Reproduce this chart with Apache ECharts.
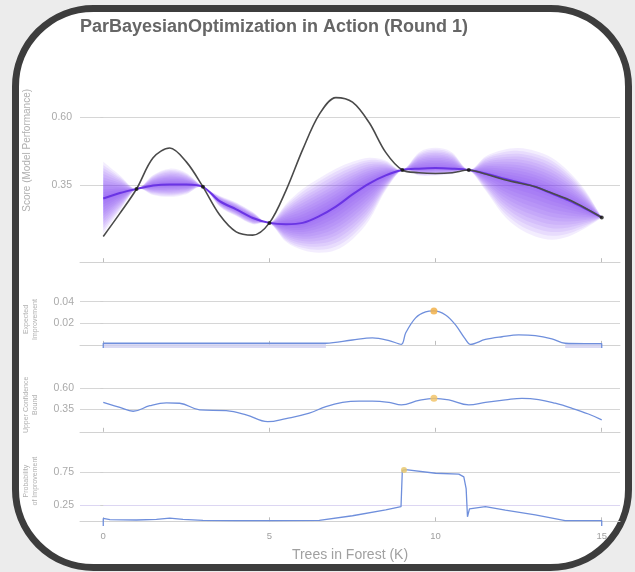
<!DOCTYPE html>
<html><head><meta charset="utf-8">
<script src="https://cdn.jsdelivr.net/npm/echarts@6/dist/echarts.min.js"></script>
<style>html,body{margin:0;padding:0;background:#ececec}#c{width:635px;height:572px}</style>
</head><body><div id="c"></div>
<script>
// ---------- data ----------
const xTicks = [0, 5, 10, 15];
const gpX = [0,0.5,1,1.5,2,2.5,3,3.5,4,4.5,5,5.5,6,6.5,7,7.5,8,8.5,9,9.5,10,10.5,11,11.5,12,12.5,13,13.5,14,14.5,15];
const trueScore = [0.16,0.245,0.335,0.45,0.486,0.435,0.343,0.24,0.177,0.165,0.21,0.33,0.48,0.61,0.672,0.655,0.58,0.47,0.405,0.395,0.392,0.395,0.405,0.39,0.372,0.357,0.343,0.32,0.296,0.265,0.23];
const gpMean   = [0.30,0.32,0.335,0.348,0.352,0.352,0.343,0.29,0.26,0.228,0.21,0.205,0.21,0.235,0.27,0.315,0.355,0.385,0.405,0.41,0.412,0.41,0.405,0.392,0.375,0.36,0.343,0.318,0.293,0.263,0.23];
const gpUpper  = [0.435,0.385,0.335,0.387,0.41,0.394,0.343,0.31,0.285,0.25,0.21,0.28,0.335,0.375,0.41,0.435,0.45,0.44,0.405,0.47,0.487,0.47,0.405,0.455,0.478,0.486,0.475,0.45,0.40,0.33,0.23];
const gpLower  = [0.17,0.255,0.335,0.313,0.306,0.316,0.343,0.27,0.235,0.205,0.21,0.14,0.11,0.10,0.11,0.15,0.22,0.33,0.405,0.385,0.385,0.39,0.405,0.33,0.245,0.19,0.16,0.148,0.16,0.19,0.23];
const obsX = [1, 3, 5, 9, 11, 15];
const obsScore = [0.335, 0.343, 0.21, 0.405, 0.405, 0.23];

const eiX = [0,0,2,4,6,6.7,7.5,8.1,8.6,8.97,9.1,9.4,9.7,9.95,10.3,10.6,10.88,11.05,11.5,12,12.5,13,13.5,13.9,14.5,15,15];
const eiY = [-0.003,0.0015,0.0015,0.0015,0.0015,0.0015,0.0045,0.0064,0.004,0.0005,0.011,0.025,0.0305,0.0314,0.0277,0.0185,0.006,0.0005,0.005,0.0075,0.0092,0.0085,0.0055,0.0015,0.0012,0.0012,-0.003];

const ucbX = [0,0.5,0.9,1.4,1.9,2.3,2.9,3.7,4.3,4.95,5.5,6.2,6.7,7.2,7.7,8.1,8.6,8.97,9.5,9.95,10.4,11.0,11.5,12.1,12.6,13.1,13.6,14.1,14.6,15];
const ucbY = [0.431,0.37,0.323,0.39,0.424,0.42,0.34,0.33,0.28,0.197,0.235,0.30,0.38,0.43,0.446,0.446,0.43,0.40,0.455,0.48,0.46,0.40,0.43,0.46,0.48,0.465,0.42,0.36,0.29,0.22];

const piX = [0,0,0.2,1,1.6,2.0,2.4,3,4,5,6.5,7.5,8.5,8.96,9.0,9.1,10,10.7,10.85,10.92,10.96,11.02,11.5,12.1,13,13.9,15,15];
const piY = [-0.07,0.045,0.025,0.02,0.03,0.05,0.03,0.015,0.01,0.01,0.015,0.085,0.175,0.225,0.78,0.79,0.735,0.722,0.68,0.5,0.07,0.19,0.225,0.17,0.10,0.012,0.012,-0.07];

const nextEI = [9.95, 0.0314];
const nextUCB = [9.95, 0.48];
const nextPI = [9.05, 0.785];

const scoreTicks = [0.35, 0.60];
const eiTicks = [0.02, 0.04];
const ucbTicks = [0.35, 0.60];
const piTicks = [0.25, 0.75];

// ---------- build ----------
const pairs = (xa, ya) => xa.map((x, i) => [x, ya[i]]);
const GRID_L = 80, GRID_W = 540;
const grids = [
  {left: GRID_L, width: GRID_W, top: 38.5, height: 223.7},
  {left: GRID_L, width: GRID_W, top: 290.9, height: 57.2},
  {left: GRID_L, width: GRID_W, top: 378, height: 53.8},
  {left: GRID_L, width: GRID_W, top: 436.3, height: 89.6}
];
const yRanges = [[0.065, 0.89], [-0.003, 0.05], [0.075, 0.725], [-0.07, 1.3]];
const yTickSets = [scoreTicks, eiTicks, ucbTicks, piTicks];
const yNames = ['Score (Model Performance)', 'Expected\nImprovement', 'Upper Confidence\nBound', 'Probability\nof Improvement'];

const xAxes = grids.map((g, i) => ({
  type: 'value', gridIndex: i, min: -0.7, max: 15.55,
  axisLine: {show: true, lineStyle: {color: '#d2d2d2', width: 1}},
  axisTick: {show: true, inside: true, length: 4, customValues: xTicks, lineStyle: {color: '#bdbdbd'}},
  axisLabel: {show: i === 3, customValues: xTicks, color: '#a0a0a0', fontSize: 9.5, margin: 5, fontFamily: 'Liberation Sans'},
  splitLine: {show: false},
  name: i === 3 ? 'Trees in Forest (K)' : '',
  nameLocation: 'middle', nameGap: 22,
  nameTextStyle: {color: '#a0a0a0', fontSize: 14, fontFamily: 'Liberation Sans'}
}));
const yAxes = grids.map((g, i) => ({
  type: 'value', gridIndex: i, min: yRanges[i][0], max: yRanges[i][1],
  axisLine: {show: false},
  axisTick: {show: true, length: 3, customValues: yTickSets[i], lineStyle: {color: '#cfcfcf'}},
  axisLabel: {customValues: yTickSets[i], color: '#aaaaaa', fontSize: 10.5, margin: i === 0 ? 8 : 6,
    fontFamily: 'Liberation Sans', formatter: v => v.toFixed(2)},
  splitLine: {show: true, lineStyle: {color: i === 3 ? ['#dcd6f2', '#d6d6d6'] : '#d6d6d6', width: 1}},
  name: yNames[i], nameLocation: 'middle', nameRotate: 90, nameGap: i === 0 ? 47 : 40,
  nameTextStyle: {color: '#b0b0b0', fontSize: i === 0 ? 10 : 7, lineHeight: i === 0 ? 12 : 9, fontFamily: 'Liberation Sans', align: 'center'}
}));

// smooth closed band path (Catmull-Rom through the read points)
function curvePath(pts, start) {
  let d = (start ? 'M' : 'L') + pts[0][0].toFixed(2) + ' ' + pts[0][1].toFixed(2);
  const n = pts.length, t = 1 / 6;
  for (let i = 0; i < n - 1; i++) {
    const p0 = pts[Math.max(i - 1, 0)], p1 = pts[i], p2 = pts[i + 1], p3 = pts[Math.min(i + 2, n - 1)];
    const c1 = [p1[0] + (p2[0] - p0[0]) * t, p1[1] + (p2[1] - p0[1]) * t];
    const c2 = [p2[0] - (p3[0] - p1[0]) * t, p2[1] - (p3[1] - p1[1]) * t];
    d += 'C' + c1[0].toFixed(2) + ' ' + c1[1].toFixed(2) + ' ' + c2[0].toFixed(2) + ' ' + c2[1].toFixed(2) + ' ' + p2[0].toFixed(2) + ' ' + p2[1].toFixed(2);
  }
  return d;
}
const LAYERS = 12;
const fracs = Array.from({length: LAYERS}, (_, k) => 1 - k / LAYERS);
const series = [];
series.push({
  type: 'custom', xAxisIndex: 0, yAxisIndex: 0, silent: true, z: 1,
  data: fracs.map((f, k) => [k, 0.3]),
  encode: {x: 0, y: 1},
  renderItem: (params, api) => {
    const f = fracs[api.value(0)];
    const up = gpX.map((x, i) => api.coord([x, gpMean[i] + f * (gpUpper[i] - gpMean[i])]));
    const lo = gpX.map((x, i) => api.coord([x, gpMean[i] - f * (gpMean[i] - gpLower[i])])).reverse();
    const d = curvePath(up, true) + curvePath(lo, false) + 'Z';
    return {type: 'path', shape: {pathData: d}, style: {fill: 'rgba(125,62,240,0.095)'}};
  }
});
series.push({type: 'line', xAxisIndex: 0, yAxisIndex: 0, symbol: 'none', smooth: 0.33,
  lineStyle: {color: '#6a34e4', width: 2}, data: pairs(gpX, gpMean), z: 3});
series.push({type: 'line', xAxisIndex: 0, yAxisIndex: 0, symbol: 'none', smooth: 0.33,
  lineStyle: {color: '#4a4a4a', width: 1.6}, data: pairs(gpX, trueScore), z: 4});
series.push({type: 'scatter', xAxisIndex: 0, yAxisIndex: 0, symbolSize: 4,
  itemStyle: {color: '#111'}, data: pairs(obsX, obsScore), z: 5});

const blue = '#6f8fdc';
series.push({type: 'line', xAxisIndex: 1, yAxisIndex: 1, symbol: 'none', smooth: 0.35,
  lineStyle: {color: blue, width: 1.3}, data: pairs(eiX, eiY),
  markArea: {silent: true, itemStyle: {color: 'rgba(205,205,240,0.75)'},
    data: [[{xAxis: 0, yAxis: -0.003}, {xAxis: 6.7, yAxis: 0.0015}],
           [{xAxis: 13.9, yAxis: -0.003}, {xAxis: 15, yAxis: 0.0012}]]}});
series.push({type: 'scatter', xAxisIndex: 1, yAxisIndex: 1, symbolSize: 7,
  itemStyle: {color: '#f2b14a', opacity: 0.85}, data: [nextEI], z: 5});

series.push({type: 'line', xAxisIndex: 2, yAxisIndex: 2, symbol: 'none', smooth: 0.4,
  lineStyle: {color: blue, width: 1.3}, data: pairs(ucbX, ucbY)});
series.push({type: 'scatter', xAxisIndex: 2, yAxisIndex: 2, symbolSize: 7,
  itemStyle: {color: '#f2c46a', opacity: 0.85}, data: [nextUCB], z: 5});

series.push({type: 'line', xAxisIndex: 3, yAxisIndex: 3, symbol: 'none', smooth: false,
  lineStyle: {color: blue, width: 1.3}, data: pairs(piX, piY)});
series.push({type: 'scatter', xAxisIndex: 3, yAxisIndex: 3, symbolSize: 6,
  itemStyle: {color: '#e8c870', opacity: 0.85}, data: [nextPI], z: 5});

const chart = echarts.init(document.getElementById('c'), null, {renderer: 'canvas'});
chart.setOption({
  backgroundColor: '#ececec',
  animation: false,
  title: {text: 'ParBayesianOptimization in Action (Round 1)', left: 75, top: 13,
    textStyle: {color: '#666', fontSize: 18, fontWeight: 'bold', fontFamily: 'Liberation Sans'}},
  graphic: [{type: 'rect', z: -10, silent: true,
    shape: {x: 15.5, y: 8.5, width: 613, height: 559, r: 78},
    style: {fill: '#ffffff', stroke: '#3d3d3d', lineWidth: 7}}],
  grid: grids,
  xAxis: xAxes,
  yAxis: yAxes,
  series: series
});
</script></body></html>
